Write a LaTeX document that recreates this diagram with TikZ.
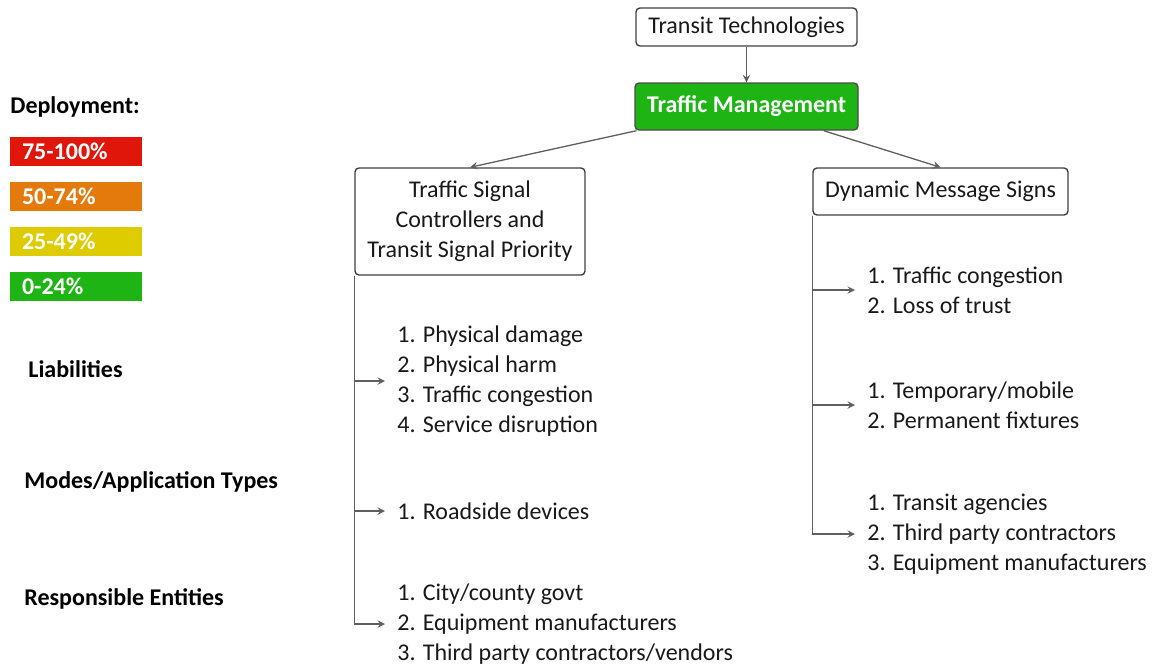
\documentclass[tikz,border=0pt]{standalone}
\usepackage{fontspec}
\setmainfont{Carlito}
\usetikzlibrary{positioning, arrows, calc}
\definecolor{depred}{RGB}{224,22,10}
\definecolor{deporange}{RGB}{228,122,12}
\definecolor{depyellow}{RGB}{222,204,0}
\definecolor{depgreen}{RGB}{30,180,20}
\definecolor{linegray}{RGB}{95,95,95}
\tikzset{
  txt/.style={font=\fontsize{12}{15}\selectfont, text=black!90}, % base text of the figure
  techbox/.style={txt, draw=black!75, line width=0.7pt, rounded corners=2pt, align=center, inner sep=0pt}, % white boxes
  tmbox/.style={techbox, fill=depgreen, draw=black!70, text=white, font=\fontsize{12}{15}\selectfont\bfseries}, % green box
  legendbox/.style={fill=#1, text=white, font=\fontsize{12}{15}\selectfont\bfseries, text width=54pt, inner xsep=6pt, inner ysep=0pt, minimum height=14.5pt}, % deployment colours
  catlabel/.style={font=\fontsize{12}{15}\selectfont\bfseries, anchor=west, inner sep=0pt}, % row titles
  itemlist/.style={txt, align=left, anchor=west, inner xsep=6pt, inner ysep=0pt}, % numbered lists
  conn/.style={->, >=stealth, draw=linegray, line width=0.65pt}, % connectors
}

\begin{document}
\begin{tikzpicture}[x=0.5pt, y=-0.5pt, node distance=22.5pt]
	\useasboundingbox (0,0) rectangle (1161,666);

	% Legend
	\node [catlabel] (deploy) at (10,107) {Deployment:};
	\node [legendbox=depred] (lg1) at (76,151.5) {75-100\%};
	\node [legendbox=deporange, below of=lg1] (lg2) {50-74\%};
	\node [legendbox=depyellow, below of=lg2] (lg3) {25-49\%};
	\node [legendbox=depgreen, below of=lg3] (lg4) {0-24\%};

	\node [catlabel] (liab) at (28,369) {Liabilities};
	\node [catlabel] (modes) at (24,482) {Modes/Application Types};
	\node [catlabel] (resp) at (24,599) {Responsible Entities};

	% Boxes
	\node [techbox, minimum width=110.5pt, minimum height=19pt] (tt) at (746.5,27) {Transit Technologies};
	\node [tmbox, minimum width=111.5pt, minimum height=23.5pt, below of=tt, node distance=39.75pt] (tm) {Traffic Management};
	\node [techbox, minimum width=115pt, minimum height=53.5pt] (tsc) at (470,221.5) {Traffic Signal\\Controllers and\\Transit Signal Priority};
	\node [techbox, minimum width=127.5pt, minimum height=23.5pt] (dms) at (940.5,191.5) {Dynamic Message Signs};

	% Lists
	\node [itemlist] (tscliab) at (385,381) {1. Physical damage\\2. Physical harm\\3. Traffic congestion\\4. Service disruption};
	\node [itemlist] (tscmode) at (385,511) {1. Roadside devices};
	\node [itemlist] (tscresp) at (385,624) {1. City/county govt\\2. Equipment manufacturers\\3. Third party contractors/vendors};

	\node [itemlist] (dmsliab) at (855,290) {1. Traffic congestion\\2. Loss of trust};
	\node [itemlist] (dmsmode) at (855,405) {1. Temporary/mobile\\2. Permanent fixtures};
	\node [itemlist] (dmsresp) at (855,534) {1. Transit agencies\\2. Third party contractors\\3. Equipment manufacturers};

	% Arrows
	\draw [conn] (tt) -- (tm);
	\draw [conn] (tm) -- (tsc.north);
	\draw [conn] (tm) -- (dms.north);

	\draw [conn] (tsc.south west) |- (tscliab.west);
	\draw [conn] (tsc.south west) |- (tscmode.west);
	\draw [conn] (tsc.south west) |- (tscresp.west);

	\draw [conn] (dms.south west) |- (dmsliab.west);
	\draw [conn] (dms.south west) |- (dmsmode.west);
	\draw [conn] (dms.south west) |- (dmsresp.west);

\end{tikzpicture}
\end{document}
